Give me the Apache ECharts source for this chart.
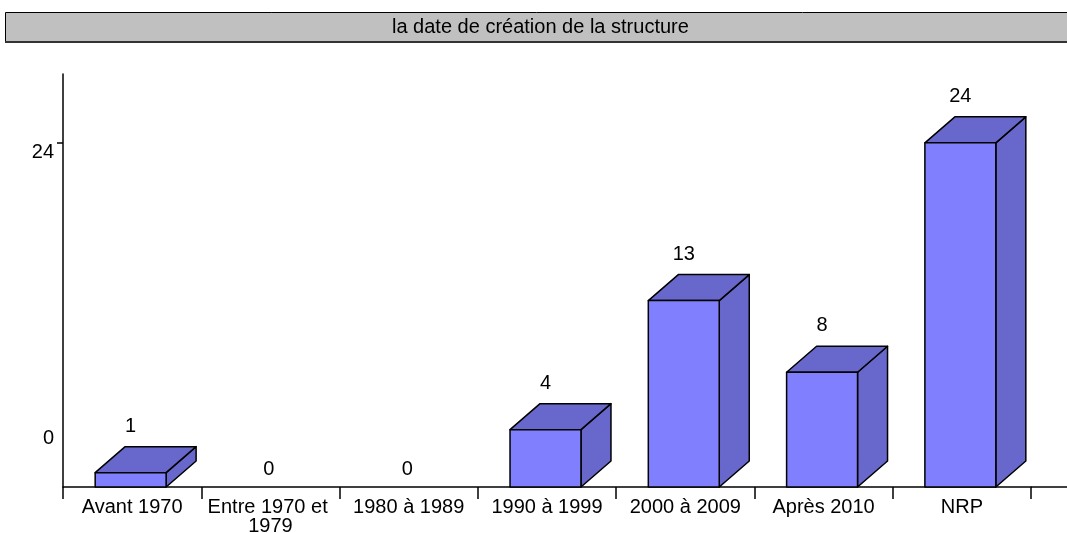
<!DOCTYPE html>
<html>
<head>
<meta charset="utf-8">
<script src="https://cdn.jsdelivr.net/npm/echarts@6/dist/echarts.min.js"></script>
<style>html,body{margin:0;padding:0;background:#fff}#c{width:1067px;height:533px}</style>
</head>
<body>
<div id="c"></div>
<script>
const titleText = 'la date de création de la structure';
const categories = ['Avant 1970', 'Entre 1970 et 1979', '1980 à 1989', '1990 à 1999', '2000 à 2009', 'Après 2010', 'NRP'];
const counts = [1, 0, 0, 4, 13, 8, 24];
const yTickValues = [0, 24];

const FONT = '"Liberation Sans", Arial, sans-serif';
const FS = 20;
const DX = 30, DY = 26;

const chart = echarts.init(document.getElementById('c'), null, {renderer: 'canvas'});
chart.setOption({
  animation: false,
  backgroundColor: '#fff',
  title: {
    text: titleText,
    left: 392, top: 13,
    padding: 0,
    textStyle: {fontFamily: FONT, fontSize: FS, fontWeight: 'normal', color: '#000', lineHeight: 28}
  },
  grid: {left: 63, right: 36, top: 74, bottom: 46, containLabel: false, outerBoundsMode: 'none'},
  xAxis: {
    type: 'category',
    data: categories,
    boundaryGap: true,
    axisLine: {lineStyle: {color: '#000', width: 1.5}},
    axisTick: {show: true, length: 12, lineStyle: {color: '#000', width: 1.5}},
    axisLabel: {
      interval: 0, margin: 11, color: '#000', fontFamily: FONT, fontSize: FS,
      width: 134, overflow: 'break', lineHeight: 19
    }
  },
  yAxis: {
    type: 'value',
    min: 0, max: 28.8, interval: 24,
    splitLine: {show: false},
    axisLine: {show: true, lineStyle: {color: '#000', width: 1.5}},
    axisTick: {show: true, length: 6, customValues: [24], lineStyle: {color: '#000', width: 1.5}},
    axisLabel: {
      customValues: yTickValues, margin: 9, color: '#000', fontFamily: FONT, fontSize: FS,
      formatter: v => v === 0 ? '{z|0}' : '{n|' + v + '}',
      rich: {
        z: {padding: [0, 0, 98, 0], fontFamily: FONT, fontSize: FS},
        n: {padding: [20, 0, 0, 0], fontFamily: FONT, fontSize: FS}
      }
    }
  },
  graphic: [
    {type: 'rect', shape: {x: 5.5, y: 12.5, width: 1070, height: 29}, style: {fill: '#c0c0c0', stroke: '#000', lineWidth: 1}, z: -1},
    {type: 'line', shape: {x1: 5, y1: 42, x2: 1067, y2: 42}, style: {stroke: '#333', lineWidth: 2}, z: -1},
    {type: 'line', shape: {x1: 1031, y1: 487, x2: 1067, y2: 487}, style: {stroke: '#000', lineWidth: 1.5}}
  ],
  series: [{
    type: 'custom',
    data: counts.map((v, i) => [i, v]),
    renderItem: function (params, api) {
      const v = api.value(1);
      const base = api.coord([api.value(0), 0]);
      const top = api.coord([api.value(0), v]);
      const band = api.size([1, 0])[0];
      const w = band * 0.513;
      const cx = base[0] - 1.5;
      const x0 = cx - w / 2, x1 = cx + w / 2;
      const yb = base[1], yt = top[1];
      const children = [];
      const ls = {stroke: '#000', lineWidth: 1.5, lineJoin: 'round'};
      if (v > 0) {
        children.push({type: 'polygon', shape: {points: [[x1, yt], [x1 + DX, yt - DY], [x1 + DX, yb - DY], [x1, yb]]}, style: Object.assign({fill: '#6868cc'}, ls)});
        children.push({type: 'polygon', shape: {points: [[x0, yt], [x0 + DX, yt - DY], [x1 + DX, yt - DY], [x1, yt]]}, style: Object.assign({fill: '#6868cc'}, ls)});
        children.push({type: 'rect', shape: {x: x0, y: yt, width: x1 - x0, height: yb - yt}, style: Object.assign({fill: '#8080ff'}, ls)});
      }
      const ly = v > 0 ? yt - DY - 20.5 : yb - 18;
      children.push({type: 'text', style: {text: String(v), x: cx, y: ly, align: 'center', verticalAlign: 'middle', fill: '#000', font: FS + 'px ' + FONT}});
      return {type: 'group', children: children};
    }
  }]
});
</script>
</body>
</html>
